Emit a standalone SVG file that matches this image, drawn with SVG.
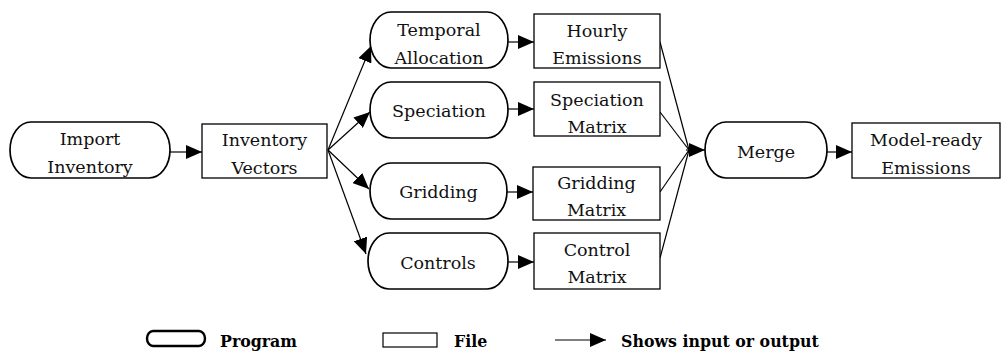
<svg xmlns="http://www.w3.org/2000/svg" width="1002" height="356" viewBox="0 0 1002 356">
<style>
.prog{fill:#fff;stroke:#000;stroke-width:1.7}
.file{fill:#fff;stroke:#000;stroke-width:1.3}
.t{font-family:"DejaVu Serif","Liberation Serif",serif;font-size:17.5px;fill:#111;text-anchor:middle}
.lg{font-family:"DejaVu Serif","Liberation Serif",serif;font-size:15.8px;font-weight:bold;fill:#000}
.c{stroke:#000;stroke-width:1.2;fill:none}
</style>
<defs>
<marker id="ah" markerUnits="userSpaceOnUse" markerWidth="17" markerHeight="14" refX="16" refY="7" orient="auto">
<path d="M0,0 L16,7 L0,14 z" fill="#000"/>
</marker>
</defs>
<rect width="1002" height="356" fill="#fff"/>
<g id="connectors">
<line class="c" x1="170" y1="152" x2="202" y2="152" marker-end="url(#ah)"/>
<line class="c" x1="328" y1="150" x2="371" y2="46" marker-end="url(#ah)"/>
<line class="c" x1="328" y1="150" x2="370" y2="112" marker-end="url(#ah)"/>
<line class="c" x1="328" y1="150" x2="369" y2="189" marker-end="url(#ah)"/>
<line class="c" x1="328" y1="150" x2="366" y2="254" marker-end="url(#ah)"/>
<line class="c" x1="508" y1="42" x2="534" y2="42" marker-end="url(#ah)"/>
<line class="c" x1="508" y1="109" x2="534" y2="109" marker-end="url(#ah)"/>
<line class="c" x1="507" y1="192" x2="533" y2="192" marker-end="url(#ah)"/>
<line class="c" x1="508" y1="262" x2="534" y2="262" marker-end="url(#ah)"/>
<line class="c" x1="660" y1="42" x2="689" y2="150"/>
<line class="c" x1="660" y1="112" x2="689" y2="150"/>
<line class="c" x1="660" y1="192" x2="689" y2="150"/>
<line class="c" x1="660" y1="258" x2="689" y2="150"/>
<line class="c" x1="686" y1="150" x2="705" y2="150" marker-end="url(#ah)"/>
<line class="c" x1="827" y1="152" x2="852" y2="152" marker-end="url(#ah)"/>
</g>
<g id="import-inventory">
<rect class="prog" x="10" y="122" width="160" height="56" rx="21" ry="28"/>
<text class="t" x="90" y="145">Import</text>
<text class="t" x="90" y="173">Inventory</text>
</g>
<g id="inventory-vectors">
<rect class="file" x="202" y="124" width="125" height="54"/>
<text class="t" x="264.5" y="146">Inventory</text>
<text class="t" x="264.5" y="174">Vectors</text>
</g>
<g id="temporal-allocation">
<rect class="prog" x="370" y="12" width="138" height="56" rx="21" ry="28"/>
<text class="t" x="439" y="36">Temporal</text>
<text class="t" x="439" y="64">Allocation</text>
</g>
<g id="hourly-emissions">
<rect class="file" x="534" y="14" width="126" height="54"/>
<text class="t" x="597" y="37">Hourly</text>
<text class="t" x="597" y="64">Emissions</text>
</g>
<g id="speciation">
<rect class="prog" x="370" y="82" width="138" height="56" rx="21" ry="28"/>
<text class="t" x="439" y="117">Speciation</text>
</g>
<g id="speciation-matrix">
<rect class="file" x="534" y="82" width="126" height="54"/>
<text class="t" x="597" y="106">Speciation</text>
<text class="t" x="597" y="133">Matrix</text>
</g>
<g id="gridding">
<rect class="prog" x="370" y="163" width="137" height="56" rx="21" ry="28"/>
<text class="t" x="438.5" y="198">Gridding</text>
</g>
<g id="gridding-matrix">
<rect class="file" x="533" y="167" width="127" height="53"/>
<text class="t" x="596.5" y="189">Gridding</text>
<text class="t" x="596.5" y="216">Matrix</text>
</g>
<g id="controls">
<rect class="prog" x="368" y="233" width="140" height="56" rx="21" ry="28"/>
<text class="t" x="438" y="269">Controls</text>
</g>
<g id="control-matrix">
<rect class="file" x="534" y="233" width="126" height="56"/>
<text class="t" x="597" y="256">Control</text>
<text class="t" x="597" y="283">Matrix</text>
</g>
<g id="merge">
<rect class="prog" x="705" y="122" width="122" height="56" rx="21" ry="28"/>
<text class="t" x="766" y="158">Merge</text>
</g>
<g id="model-ready-emissions">
<rect class="file" x="852" y="123" width="148" height="55"/>
<text class="t" x="926" y="146">Model-ready</text>
<text class="t" x="926" y="174">Emissions</text>
</g>
<g id="legend">
<rect x="147" y="331" width="58" height="15" rx="6" ry="7.5" fill="#fff" stroke="#000" stroke-width="2.4"/>
<text class="lg" x="220" y="347">Program</text>
<rect x="383" y="333" width="54" height="14" fill="#fff" stroke="#000" stroke-width="1.2"/>
<text class="lg" x="454" y="347">File</text>
<line class="c" x1="555" y1="340" x2="606" y2="340" marker-end="url(#ah)"/>
<text class="lg" x="621" y="347">Shows input or output</text>
</g>
</svg>
